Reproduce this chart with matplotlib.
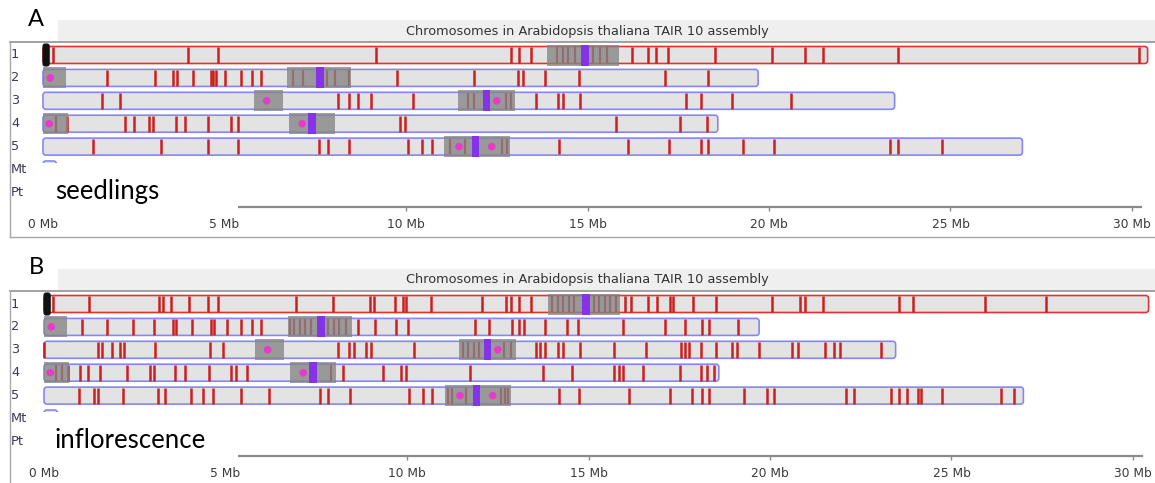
import matplotlib
matplotlib.use("Agg")
import matplotlib.pyplot as plt
from matplotlib.patches import Rectangle, FancyBboxPatch
from matplotlib.transforms import Affine2D

# chromosomes of the TAIR10 assembly, lengths in Mb
chrom_names = ["1", "2", "3", "4", "5", "Mt", "Pt"]
chrom_len = [30.43, 19.70, 23.46, 18.59, 26.98, 0.37, 0.15]

# grey blocks (chromosome index, start, end in Mb)
block_chrom = [0, 1, 1, 2, 2, 3, 3, 4]
block_start = [13.88, 0.00, 6.73, 5.81, 11.44, 0.00, 6.79, 11.06]
block_end = [15.87, 0.63, 8.48, 6.60, 13.00, 0.70, 8.04, 12.87]

# purple centromere bars
cen_chrom = [0, 1, 2, 3, 4]
cen_pos = [14.93, 7.63, 12.22, 7.41, 11.92]

# magenta dots
dot_chrom = [1, 2, 2, 3, 3, 4, 4]
dot_pos = [0.20, 6.16, 12.50, 0.17, 7.14, 11.46, 12.36]

# red hits, one list per chromosome 1-5
seedlings_marks = [
    [0.27, 4.00, 4.81, 9.17, 12.88, 13.12, 13.44, 16.23, 16.66, 16.90, 17.23, 18.51,
     20.07, 20.99, 21.48, 23.56, 30.20],
    [1.77, 3.09, 3.57, 3.70, 4.12, 4.62, 4.69, 4.77, 5.01, 5.45, 5.77, 6.01, 9.75,
     11.87, 13.08, 13.21, 13.83, 14.77, 17.14, 18.33],
    [1.62, 2.12, 8.13, 8.44, 8.67, 9.04, 10.20, 13.58, 14.20, 14.32, 14.79, 17.71,
     18.13, 18.99, 20.61],
    [0.65, 2.26, 2.51, 2.92, 3.04, 3.66, 3.91, 4.55, 5.18, 5.36, 9.83, 9.97, 15.79,
     17.55, 18.28],
    [1.39, 3.24, 4.55, 5.38, 7.61, 7.86, 8.44, 10.05, 10.43, 10.71, 14.21, 16.12,
     17.25, 18.13, 18.33, 19.29, 20.14, 23.33, 23.56, 24.76],
]
inflorescence_marks = [
    [0.24, 1.25, 3.17, 3.28, 3.51, 4.00, 4.52, 4.80, 6.93, 7.96, 8.99, 9.09, 9.68,
     9.88, 9.98, 10.65, 12.07, 12.73, 12.87, 13.09, 13.42, 16.00, 16.18, 16.65, 16.88,
     17.25, 17.34, 17.89, 18.51, 20.06, 20.82, 20.96, 21.47, 23.55, 23.93, 25.91, 27.60],
    [1.04, 1.74, 2.44, 3.03, 3.54, 3.65, 4.09, 4.59, 4.68, 5.03, 5.44, 5.73, 5.99,
     8.65, 9.11, 9.70, 10.04, 11.86, 12.25, 12.88, 13.08, 13.21, 13.80, 14.40, 14.70,
     15.96, 17.11, 17.65, 18.12, 18.32, 19.13],
    [0.01, 1.48, 1.59, 1.86, 2.09, 2.21, 3.05, 4.57, 4.92, 8.10, 8.40, 8.54, 8.86,
     9.02, 10.19, 13.55, 13.66, 13.80, 14.15, 14.29, 14.76, 15.69, 16.58, 17.54, 17.66,
     17.77, 18.11, 18.51, 18.96, 19.08, 19.70, 20.60, 20.78, 21.51, 21.76, 21.92, 23.06],
    [0.65, 0.99, 1.22, 1.54, 2.28, 2.92, 3.03, 3.62, 3.88, 4.54, 5.16, 5.28, 5.60,
     8.23, 9.34, 9.84, 9.96, 11.74, 13.74, 14.54, 15.71, 15.83, 15.96, 16.49, 17.52,
     18.11, 18.27, 18.46],
    [0.96, 1.38, 1.49, 2.18, 3.14, 3.33, 4.06, 4.38, 4.66, 5.44, 6.20, 7.61, 7.82,
     8.42, 10.05, 10.43, 10.69, 14.18, 14.73, 16.12, 17.24, 17.85, 18.12, 18.32, 19.27,
     19.92, 20.11, 22.10, 22.31, 23.32, 23.55, 23.78, 24.07, 24.16, 24.74, 26.36, 26.71],
]

# hits lying under the grey blocks
seedlings_stripes = [
    [14.15, 14.32, 14.47, 14.66, 15.16, 15.34, 15.53],
    [6.90, 7.17, 7.82, 8.05, 8.42],
    [11.70, 11.88, 12.75, 12.90],
    [0.36],
    [11.21, 11.63, 12.64, 12.77],
]
inflorescence_stripes = [
    [14.00, 14.15, 14.30, 14.45, 14.60, 15.15, 15.30, 15.45, 15.60, 15.75],
    [6.77, 6.90, 7.04, 7.18, 7.36, 7.82, 7.99, 8.14, 8.33],
    [11.54, 11.67, 11.84, 11.97, 12.68, 12.87],
    [0.33, 0.50, 7.90],
    [11.14, 11.23, 11.63, 12.60, 12.70, 12.79],
]

tick_mb = [0, 5, 10, 15, 20, 25, 30]
tick_labels = ["0 Mb", "5 Mb", "10 Mb", "15 Mb", "20 Mb", "25 Mb", "30 Mb"]

W, H = 1155, 483
PANEL_H = 249
PX_PER_MB = 36.3
ROW0 = 55
ROW_STEP = 22.9
BAR_H = 17
BOX_H = 21

fig = plt.figure(figsize=(W / 100, H / 100), dpi=100)
fig.patch.set_facecolor("white")


def draw_panel(y_off, x0, marks, stripes, letter, tissue):
    ax = fig.add_axes([0, 1 - (y_off + PANEL_H) / H, 1, PANEL_H / H])
    ax.set_xlim(-x0 / PX_PER_MB, (W - x0) / PX_PER_MB)
    ax.set_ylim(PANEL_H, 0)
    ax.patch.set_visible(False)
    # pixel coordinates inside the panel (origin top left)
    px = Affine2D().translate(0, y_off).scale(1 / W, -1 / H).translate(0, 1) + fig.transFigure

    # header bar and frame
    ax.add_patch(Rectangle((58, 20), W - 58, 22, transform=px, fc="#efefef", ec="none",
                           zorder=0.5, clip_on=False))
    ax.text(587, 31, "Chromosomes in Arabidopsis thaliana TAIR 10 assembly", transform=px,
            ha="center", va="center", fontsize=9.3, color="#333333")
    ax.plot([10, W], [42, 42], transform=px, color="#9a9a9a", lw=1.3, clip_on=False)
    ax.plot([10, 10], [42, 237], transform=px, color="#a8a8a8", lw=1.0, clip_on=False)
    ax.plot([10, W], [237, 237], transform=px, color="#a8a8a8", lw=1.0, clip_on=False)

    for i, (name, L) in enumerate(zip(chrom_names, chrom_len)):
        y = ROW0 + i * ROW_STEP
        ax.text(11, y, name, transform=px, ha="left", va="center", fontsize=9.3,
                color="#3a3a58")
        edge = "#e03434" if i == 0 else "#8686f8"
        r = min(0.08, L / 2.5)
        ax.add_patch(FancyBboxPatch((0, y - BAR_H / 2), L, BAR_H,
                                    boxstyle="round,pad=0,rounding_size=%.3f" % r,
                                    mutation_aspect=PX_PER_MB, fc="#e3e3e3", ec=edge,
                                    lw=1.2, zorder=2))
        if i < 5:
            ax.vlines(marks[i], y - BAR_H / 2 + 0.6, y + BAR_H / 2 - 0.6, colors="#cc1f1f",
                      lw=1.8, zorder=2.2)
            ax.vlines(stripes[i], y - BAR_H / 2 + 0.6, y + BAR_H / 2 - 0.6,
                      colors="#cc1f1f", lw=1.6, zorder=2.2)

    # semi-transparent grey blocks over the hits, centromeres, dots
    for c, s, e in zip(block_chrom, block_start, block_end):
        y = ROW0 + c * ROW_STEP
        ax.add_patch(Rectangle((s, y - BOX_H / 2), e - s, BOX_H, fc="#858585", ec="none",
                               alpha=0.78, zorder=2.4))
    for c, p in zip(cen_chrom, cen_pos):
        y = ROW0 + c * ROW_STEP
        ax.add_patch(Rectangle((p - 0.1, y - BOX_H / 2), 0.2, BOX_H, fc="#8433e8",
                               ec="none", zorder=2.6))
    ax.scatter(dot_pos, [ROW0 + c * ROW_STEP for c in dot_chrom], s=30, c="#e63cc8",
               edgecolors="none", zorder=2.7)
    ax.add_patch(FancyBboxPatch((0, ROW0 - 11), 0.17, 22,
                                boxstyle="round,pad=0,rounding_size=0.06",
                                mutation_aspect=PX_PER_MB, fc="#111111", ec="#111111",
                                lw=0.8, zorder=2.8))

    # Mb scale
    for side in ["top", "left", "right"]:
        ax.spines[side].set_visible(False)
    ax.spines["bottom"].set_position(("data", 207))
    ax.spines["bottom"].set_bounds(0, 30.25)
    ax.spines["bottom"].set_color("#8a8a8a")
    ax.spines["bottom"].set_linewidth(1.6)
    ax.set_xticks(tick_mb)
    ax.set_xticklabels(tick_labels)
    ax.tick_params(axis="x", direction="out", length=3, width=1, color="#8a8a8a", pad=5,
                   labelsize=8.8, labelcolor="#3a3a3a")
    ax.set_yticks([])

    # white boxes with the labels
    ax.add_patch(Rectangle((30, 163), 208, 50, transform=px, fc="white", ec="none",
                           zorder=4, clip_on=False))
    ax.text(55, 192, tissue, transform=px, ha="left", va="center", fontsize=18.5,
            family="Lato", color="black", zorder=5)
    ax.text(36, 19, letter, transform=px, ha="center", va="center", fontsize=17,
            family="Lato", color="black", zorder=5)
    return ax


draw_panel(0, 43, seedlings_marks, seedlings_stripes, "A", "seedlings")
draw_panel(249, 44, inflorescence_marks, inflorescence_stripes, "B", "inflorescence")

fig.savefig("out.png", dpi=100, facecolor="white")
